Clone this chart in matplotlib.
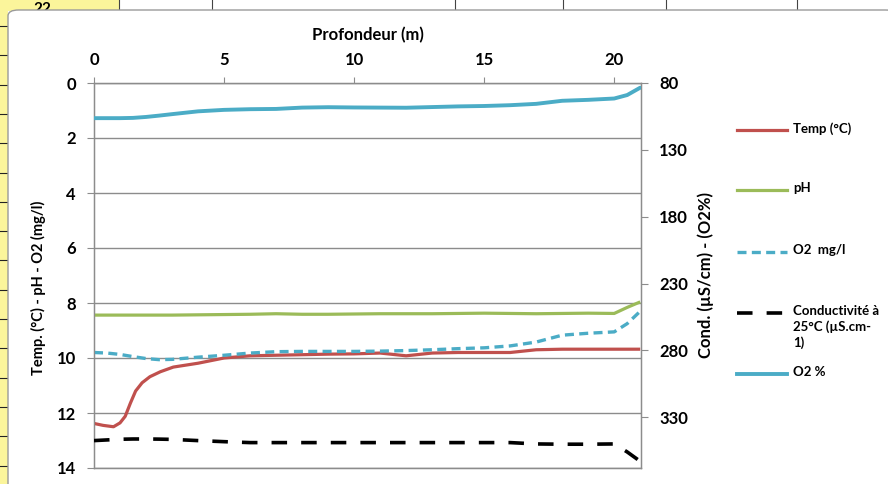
import matplotlib
matplotlib.use("Agg")
import matplotlib.pyplot as plt
from matplotlib.lines import Line2D
from matplotlib.patches import Rectangle, FancyBboxPatch

# Depth profile (m) and measured parameters
depth = [0, 0.5, 1, 1.5, 2, 2.5, 3, 4, 5, 6, 7, 8, 9, 10, 11, 12, 13, 14, 15,
         16, 17, 18, 19, 20, 20.5, 21]
ph = [8.44, 8.44, 8.44, 8.44, 8.44, 8.44, 8.44, 8.43, 8.42, 8.41, 8.39, 8.41,
      8.41, 8.40, 8.39, 8.39, 8.39, 8.38, 8.37, 8.38, 8.39, 8.38, 8.37, 8.38,
      8.16, 7.96]
o2_mg = [9.8, 9.82, 9.87, 9.95, 10.02, 10.06, 10.05, 9.97, 9.9, 9.82, 9.77,
         9.76, 9.76, 9.76, 9.75, 9.73, 9.7, 9.66, 9.63, 9.56, 9.42, 9.17, 9.1,
         9.05, 8.75, 8.3]
cond = [347.5, 347.0, 346.5, 346.3, 346.3, 346.4, 346.6, 347.5, 348.3, 349.0,
        349.0, 349.0, 349.0, 349.0, 349.0, 349.0, 349.0, 349.0, 349.0, 349.0,
        350.0, 350.2, 350.2, 350.0, 356.0, 363.0]
o2_pct = [106.3, 106.3, 106.3, 106.1, 105.4, 104.4, 103.3, 101.2, 100.1, 99.6,
          99.4, 98.4, 98.1, 98.3, 98.4, 98.5, 98.0, 97.5, 97.2, 96.6, 95.6,
          93.3, 92.6, 91.6, 89.0, 83.5]

# Temperature was logged more densely through the thermocline
depth_temp = [0, 0.35, 0.75, 1.0, 1.2, 1.4, 1.6, 1.85, 2.15, 2.55, 3.05, 4, 5,
              6, 7, 8, 9, 10, 11, 12, 13, 14, 15, 16, 17, 18, 19, 20, 21]
temp = [12.38, 12.45, 12.5, 12.36, 12.12, 11.64, 11.2, 10.9, 10.68, 10.5,
        10.33, 10.19, 10.0, 9.92, 9.9, 9.88, 9.86, 9.85, 9.82, 9.92, 9.82,
        9.8, 9.8, 9.8, 9.7, 9.68, 9.68, 9.68, 9.68]

x_ticks = [0, 5, 10, 15, 20]
left_ticks = [0, 2, 4, 6, 8, 10, 12, 14]
right_ticks = [80, 130, 180, 230, 280, 330]

labels = ["Temp (°C)", "pH", "O2  mg/l",
          "Conductivité à\n25°C (µS.cm-\n1)", "O2 %"]

RED = "#C0504D"
GREEN = "#9BBB59"
CYAN = "#4BACC6"
GRID = "#8C8C8C"

plt.rcParams["font.family"] = ["Lato", "DejaVu Sans"]
plt.rcParams["font.weight"] = "bold"

W, H = 888, 484
fig = plt.figure(figsize=(W / 100, H / 100), dpi=100)
fig.patch.set_facecolor("white")


def fx(px):
    return px / W


def fy(py):
    return 1 - py / H


# Spreadsheet surrounding the embedded chart
fig.add_artist(Rectangle((0, 0), fx(8), 1, transform=fig.transFigure,
                         facecolor="#FBF59B", edgecolor="none", zorder=-5))
fig.add_artist(Rectangle((0, fy(11)), fx(119), 11 / H, transform=fig.transFigure,
                         facecolor="#FBF59B", edgecolor="none", zorder=-5))
for k in range(17):
    yy = 26 + 29.3 * k
    fig.add_artist(Line2D([0, fx(8)], [fy(yy), fy(yy)], transform=fig.transFigure,
                          color="#222222", lw=0.8, zorder=-4))
for xx in [119, 212, 455, 563, 666, 797]:
    fig.add_artist(Line2D([fx(xx), fx(xx)], [fy(0), fy(11)], transform=fig.transFigure,
                          color="#444444", lw=0.8, zorder=-4))
fig.text(fx(42), fy(9), "22", fontsize=11, ha="center", va="center",
         color="black", zorder=-3.5)
fig.add_artist(FancyBboxPatch((fx(8), -0.05), 1, fy(10) + 0.05,
                              boxstyle="round,pad=0,rounding_size=0.012",
                              transform=fig.transFigure, facecolor="white",
                              edgecolor="#9A9A9A", lw=1.0, zorder=-3))

# Main axes: depth on top, left scale inverted
ax = fig.add_axes([fx(94), fy(468), fx(641) - fx(94), fy(83) - fy(468)])
ax.set_facecolor("none")
ax.set_xlim(0, 21.03)
ax.set_ylim(14, 0)
ax.set_xticks(x_ticks)
ax.set_yticks(left_ticks)
ax.xaxis.tick_top()
ax.xaxis.set_label_position("top")
ax.set_xlabel("Profondeur (m)", fontsize=12, fontweight="bold", labelpad=8)
ax.set_ylabel("Temp. (°C) - pH - O2 (mg/l)", fontsize=10.5, fontweight="bold")
ax.yaxis.set_label_coords(-0.087, 0.469)
ax.tick_params(axis="x", length=4, width=0.8, color=GRID, labelsize=12, pad=7)
ax.tick_params(axis="y", length=5, width=0.8, color=GRID, labelsize=12, pad=8)
ax.grid(axis="y", color=GRID, lw=1.0)
ax.grid(axis="x", visible=False)
for side in ["left", "right", "top", "bottom"]:
    ax.spines[side].set_color(GRID)
    ax.spines[side].set_linewidth(1.0)

ax.plot(depth_temp, temp, color=RED, lw=2.3, solid_capstyle="butt",
        solid_joinstyle="round", zorder=3)
ax.plot(depth, ph, color=GREEN, lw=2.3, solid_capstyle="butt", zorder=3)
ax.plot(depth, o2_mg, color=CYAN, lw=2.4, dashes=(2.7, 1.6), zorder=4)

# Secondary scale for conductivity and O2 saturation
ax2 = ax.twinx()
ax2.set_ylim(368, 80)
ax2.set_yticks(right_ticks)
ax2.set_ylabel("Cond. (µS/cm) - (O2%)", fontsize=12, fontweight="bold",
               labelpad=7)
ax2.tick_params(axis="y", length=5, width=0.8, color=GRID, labelsize=12, pad=8)
for side in ["left", "right", "top", "bottom"]:
    ax2.spines[side].set_color(GRID)
ax2.plot(depth, cond, color="black", lw=2.6, dashes=(4.3, 3.9), zorder=3)
ax2.plot(depth, o2_pct, color=CYAN, lw=2.8, solid_capstyle="round", zorder=3)

# Legend drawn at the right of the plot
styles = [dict(color=RED, lw=2.3),
          dict(color=GREEN, lw=2.3),
          dict(color=CYAN, lw=2.4, dashes=(2.7, 1.6)),
          dict(color="black", lw=2.6, dashes=(4.3, 3.9)),
          dict(color=CYAN, lw=2.8)]
rows = [130, 190, 252, 313, 374]
for style, label, yy in zip(styles, labels, rows):
    fig.add_artist(Line2D([fx(737), fx(787)], [fy(yy), fy(yy)],
                          transform=fig.transFigure, **style))
    fig.text(fx(793), fy(yy - 8), label, fontsize=9.5, fontweight="bold",
             ha="left", va="top", linespacing=1.3)

fig.savefig("out.png", dpi=100)
